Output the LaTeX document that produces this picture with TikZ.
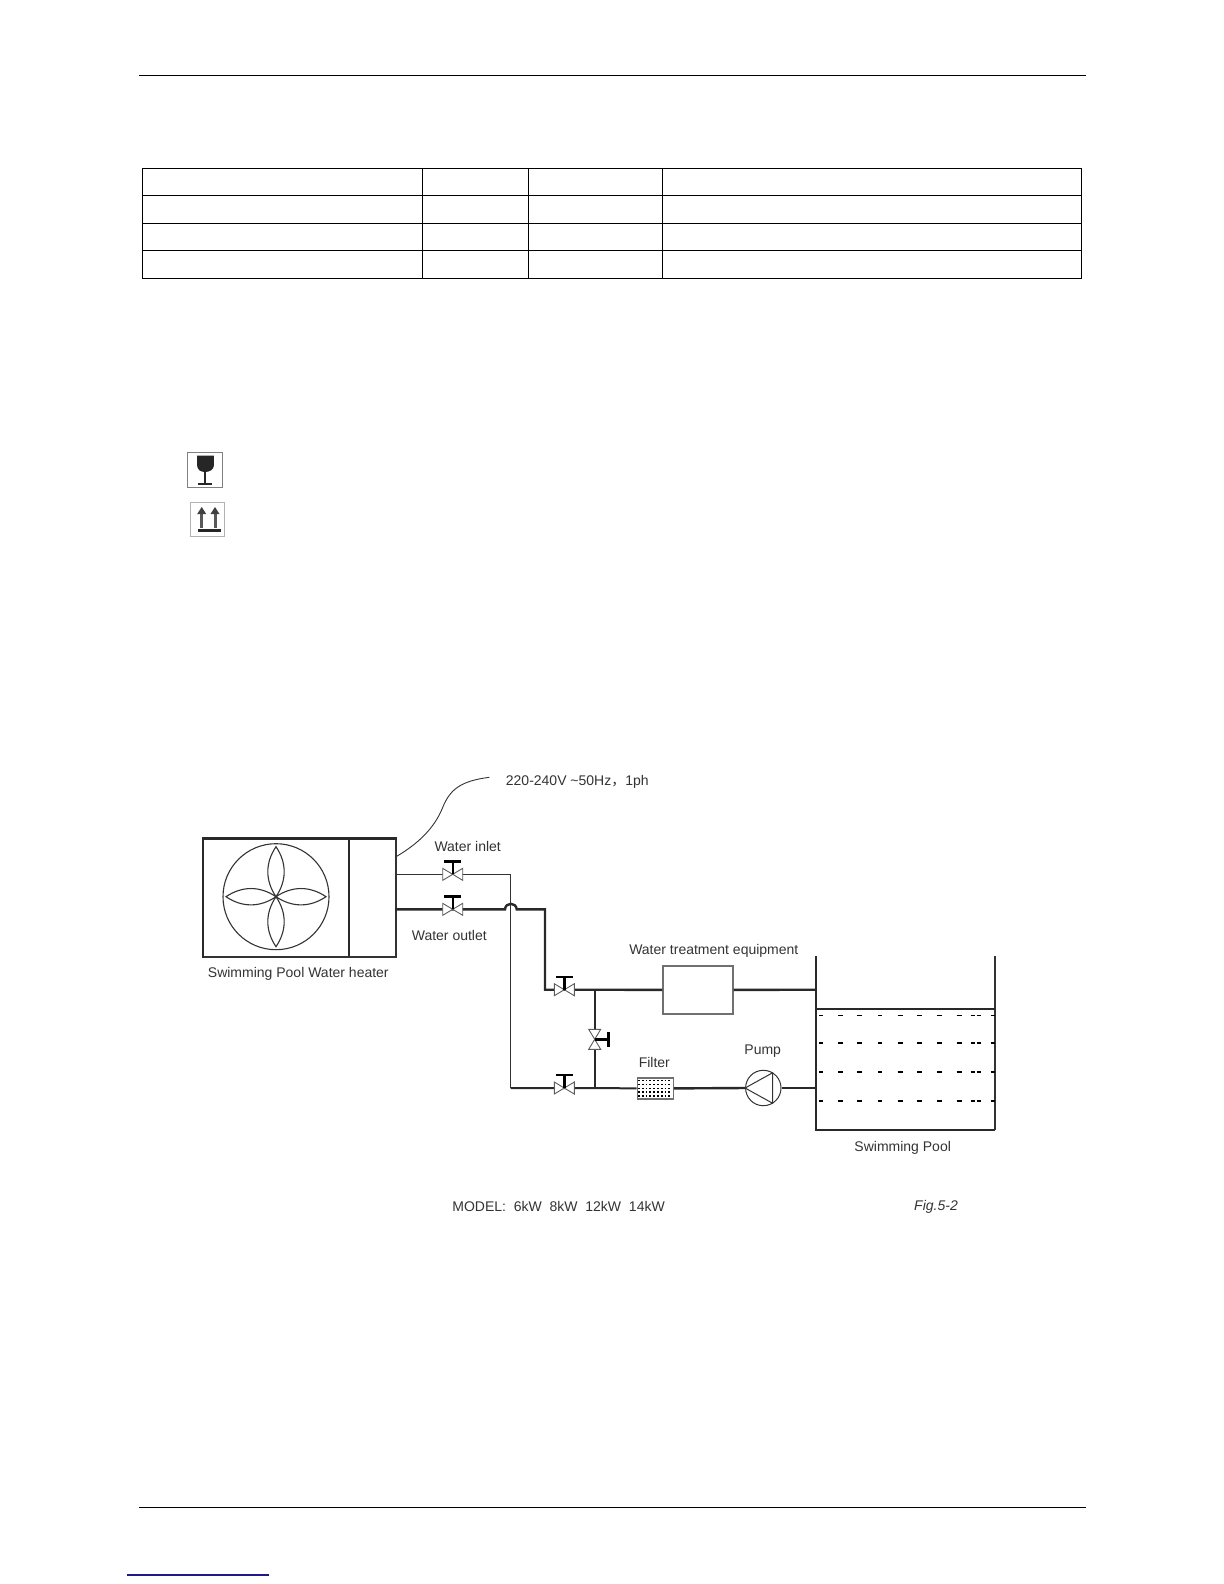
\documentclass[tikz,border=0pt]{standalone}
\usepackage{fontspec}
\setmainfont{Liberation Sans}
\newfontfamily\cjk{Noto Sans CJK SC}
\usetikzlibrary{calc,positioning}
\definecolor{ink}{HTML}{333333}
\definecolor{linkblue}{HTML}{1A1A8C}
\tikzstyle{rule} = [draw,black,line width=.5pt]
\tikzstyle{cell} = [draw,black,line width=.45pt]
\tikzstyle{pipe} = [draw,ink!80!black,line width=1.2pt]
\tikzstyle{thinpipe} = [draw,ink,line width=.65pt]
\tikzstyle{label} = [inner sep=0,text=ink,font=\fontsize{7}{9}\selectfont]
\tikzstyle{equip} = [draw,ink!70,line width=.6pt,rectangle,inner sep=0,anchor=north west]
\tikzstyle{seat} = [draw,ink!80,line width=.45pt,fill=white]
\tikzstyle{stem} = [draw,black,line width=1.2pt]
\tikzstyle{ripple} = [draw,black,line width=1.1pt]
\def \tu {6}
\def \tw {10}
\begin{document}
\begin{tikzpicture}[x=.5pt,y=-.5pt]
  \useasboundingbox (0,0) rectangle (1224,1584);
  % page rules
  \coordinate (headl) at (139,76);
  \coordinate (headr) at (1086,76);
  \coordinate (footl) at (139,1507.3);
  \coordinate (footr) at (1086,1507.3);
  \coordinate (linkl) at (127,1575);
  \coordinate (linkr) at (269,1575);
  \draw[rule] (headl) -- (headr);
  \draw[rule] (footl) -- (footr);
  \draw[linkblue,line width=.6pt] (linkl) -- (linkr);
  % table
  \draw[cell] (142.6,168) rectangle (1081.5,278);
  \foreach \y in {195,223.5,250.8}
    \draw[cell] (142.6,\y) -- (1081.5,\y);
  \foreach \x in {422.6,528.5,662}
    \draw[cell] (\x,168) -- (\x,278);
  % handling marks
  \node[draw,gray,line width=.7pt,minimum size=17.5pt,inner sep=0] (fragile) at (204.8,470) {};
  \fill[black!85] (197.2,455.7) -- (213.8,455.7) -- (213.8,466) .. controls (213.5,470) and (209,472) .. (205,472) .. controls (201,472) and (197.5,470) .. (197.2,466) -- cycle;
  \draw[black!85,line width=.6pt] (205,472) -- (205,484);
  \draw[black!85,line width=.7pt] (198,484) -- (211.7,484);
  \node[draw,gray!60,line width=.5pt,minimum size=17pt,inner sep=0] (upright) at (207.5,519.7) {};
  \fill[black!85] (198,529.3) rectangle (220.7,531.7);
  \foreach \x in {201.7,215} {
    \draw[black!65,line width=1.5pt] (\x,528) -- (\x,511);
    \fill[black!75] (\x,507) -- (\x+4.5,514) -- (\x-4.5,514) -- cycle;
  }
  % heater
  \node[equip,draw=ink,line width=.8pt,minimum width=96.15pt,minimum height=58.85pt] (heater) at (202.7,838.3) {};
  \draw[pipe] (heater.south west) -- (heater.north west) -- (heater.north east);
  \coordinate (divt) at (349,838.3);
  \coordinate (divb) at (349,956);
  \draw[pipe] (divt) -- (divb);
  \node[draw,ink,line width=.55pt,circle,inner sep=0,minimum size=53pt] (fan) at (276,896.7) {};
  \foreach \a in {0,90,180,270}
    \draw[ink,line width=.55pt] (fan.center) to[bend left=34] ($(fan.center)+(\a:50)$) to[bend left=34] (fan.center);
  \node[label] (heaterlab) at (298.3,974.3) {Swimming Pool Water heater};
  % supply cable
  \coordinate (cable) at (395,857.3);
  \coordinate (mains) at (489.3,777.3);
  \draw[ink,line width=.45pt] (cable) .. controls (425,840) and (437,822) .. (443,806.7) .. controls (450,790) and (460,781) .. (mains);
  \node[label,anchor=west] (mainslab) at (505.5,781.7) {220-240V \textasciitilde50Hz{\cjk，}1ph};
  % named points
  \coordinate (vin) at (452.7,874.3);
  \coordinate (vout) at (452.7,909.3);
  \coordinate (vtop) at (564.3,989.7);
  \coordinate (vbot) at (564.3,1088);
  \coordinate (vmid) at (594.7,1039.3);
  \coordinate (teetop) at (594.7,989.7);
  \coordinate (teebot) at (594.7,1088);
  \coordinate (pooltop) at (815.7,989.7);
  \coordinate (poolbot) at (815.7,1088);
  \coordinate (inl) at (395,874.3);
  \coordinate (incorner) at (510.7,874.3);
  \coordinate (incornerb) at (510.7,1088);
  \coordinate (outl) at (395,909.3);
  \coordinate (hopl) at (505,909.3);
  \coordinate (hopr) at (516.7,909.3);
  \coordinate (outcorner) at (545,909.3);
  \coordinate (outcornerb) at (545,989.7);
  % equipment
  \node[equip,minimum width=35pt,minimum height=24pt] (treat) at (662.3,965.3) {};
  \node[equip,minimum width=18pt,minimum height=10.5pt,fill=white] (filter) at (636.7,1077.3) {};
  \node[draw,ink,line width=.5pt,circle,inner sep=0,minimum size=17.7pt,fill=white] (pump) at (763.3,1088) {};
  % pipes
  \draw[thinpipe] (inl) -- (incorner) -- (incornerb);
  \draw[pipe,line width=1pt] (incornerb) -- (vbot) -- (teebot) -- (filter.west);
  \draw[pipe] (outl) -- (hopl) .. controls (505.5,902) and (516.2,902) .. (hopr) -- (outcorner) -- (outcornerb) -- (vtop) -- (teetop) -- (treat.west);
  \draw[pipe] (treat.east) -- (pooltop);
  \draw[pipe,line width=1.05pt] (teetop) -- (teebot);
  \draw[pipe] (filter.east) -- (pump.west);
  \draw[pipe] (pump.east) -- (poolbot);
  % filter dots and pump rotor
  \foreach \y in {1080.5,1084.5,1088.3,1092.2,1096}
    \draw[black,line width=.75pt,dash pattern=on .9pt off 1pt] (638,\y) -- (672,\y);
  \draw[ink,line width=.5pt] (772.7,1072.7) -- (772.7,1103.3) -- (pump.west) -- cycle;
  % valves
  \foreach \v in {vin,vout,vtop,vbot} {
    \draw[seat] (\v) -- ($(\v)+(-\tw,-\tu)$) -- ($(\v)+(-\tw,\tu)$) -- cycle;
    \draw[seat] (\v) -- ($(\v)+(\tw,-\tu)$) -- ($(\v)+(\tw,\tu)$) -- cycle;
    \draw[stem] (\v) -- ($(\v)+(0,-13)$);
    \draw[stem] ($(\v)+(-8.5,-13)$) -- ($(\v)+(8.5,-13)$);
  }
  \draw[seat] (vmid) -- ($(vmid)+(-\tu,-\tw)$) -- ($(vmid)+(\tu,-\tw)$) -- cycle;
  \draw[seat] (vmid) -- ($(vmid)+(-\tu,\tw)$) -- ($(vmid)+(\tu,\tw)$) -- cycle;
  \draw[stem] (vmid) -- ($(vmid)+(13.6,0)$);
  \draw[stem] ($(vmid)+(13.6,-7.5)$) -- ($(vmid)+(13.6,7.5)$);
  % pool
  \coordinate (poolnw) at (815.7,956);
  \coordinate (poolsw) at (815.7,1130);
  \coordinate (poolse) at (995,1130);
  \coordinate (poolne) at (995,956);
  \coordinate (waterl) at (815.7,1009.3);
  \coordinate (waterr) at (995,1009.3);
  \draw[pipe] (poolnw) -- (poolsw) -- (poolse);
  \draw[ink,line width=.9pt] (poolse) -- (poolne);
  \draw[pipe,line width=1.05pt] (waterl) -- (waterr);
  \foreach \y/\w in {1015/.5,1043.3/1.1,1072.3/1.1,1101.3/1.1}
    \foreach \x/\l in {819/4,838.3/5,857.3/5,878.3/4,897.7/5,917.3/5,937/5,956.7/5,970.7/4,976.7/4,990.7/4.3}
      \draw[ripple,line width=\w pt] (\x,\y) -- ++(\l,0);
  % labels
  \node[label] (inletlab) at (467.7,846.7) {Water inlet};
  \node[label] (outletlab) at (449.3,935) {Water outlet};
  \node[label] (treatlab) at (713.8,950.7) {Water treatment equipment};
  \node[label] (filterlab) at (654.3,1062.3) {Filter};
  \node[label] (pumplab) at (762.7,1050.7) {Pump};
  \node[label] (poollab) at (902.7,1148.3) {Swimming Pool};
  \node[label,anchor=west] (modellab) at (452,1206.5) {MODEL:\ \ 6kW\ \ 8kW\ \ 12kW\ \ 14kW};
  \node[label,font=\fontsize{7}{9}\selectfont\itshape] (figlab) at (936,1206.7) {Fig.5-2};
\end{tikzpicture}
\end{document}
